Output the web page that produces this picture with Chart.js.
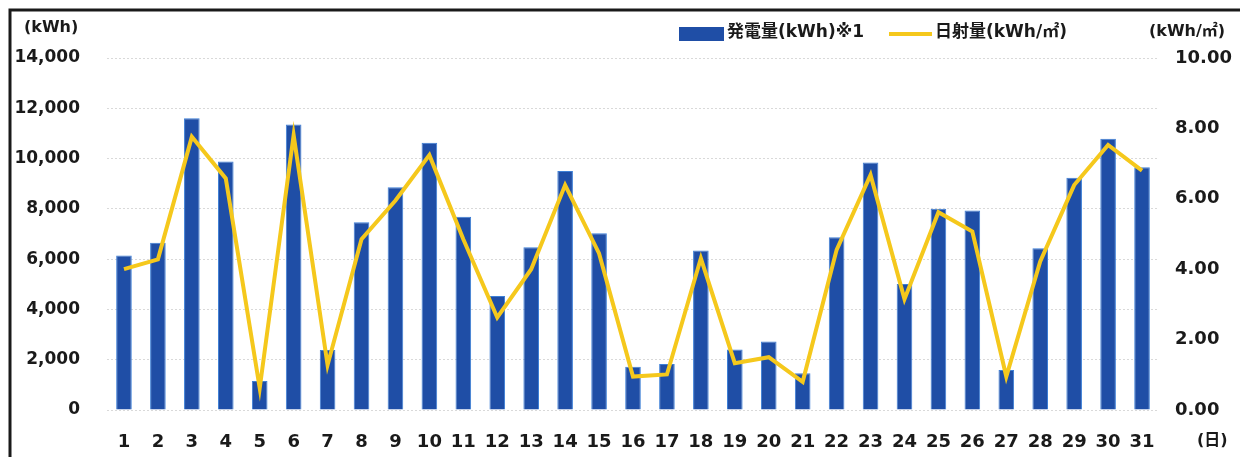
<!DOCTYPE html>
<html>
<head>
<meta charset="utf-8">
<script src="https://cdn.jsdelivr.net/npm/chart.js@4.4.0/dist/chart.umd.min.js"></script>
<style>
  html, body { margin: 0; padding: 0; background: #fff; }
  #wrap { width: 1240px; height: 457px; position: relative; }
</style>
</head>
<body>
<div id="wrap"><canvas id="hatsuden"></canvas></div>
<script>
var days = ['1','2','3','4','5','6','7','8','9','10','11','12','13','14','15','16',
            '17','18','19','20','21','22','23','24','25','26','27','28','29','30','31'];

// 発電量 (kWh)
var generation = [6140, 6650, 11600, 9880, 1150, 11360, 2390, 7470, 8860, 10630, 7690,
                  4530, 6470, 9510, 7030, 1720, 1830, 6340, 2410, 2720, 1460, 6870,
                  9840, 5010, 8000, 7930, 1590, 6430, 9240, 10790, 9650];

// 日射量 (kWh/㎡)
var irradiation = [4.00, 4.28, 7.76, 6.58, 0.62, 7.81, 1.28, 4.85, 5.95, 7.24, 4.85,
                   2.63, 4.00, 6.39, 4.45, 0.95, 1.01, 4.31, 1.33, 1.50, 0.80, 4.55,
                   6.68, 3.15, 5.62, 5.07, 0.95, 4.22, 6.39, 7.53, 6.80];

var leftTicks = [0, 2000, 4000, 6000, 8000, 10000, 12000, 14000];
var rightTicks = [0, 2, 4, 6, 8, 10];

var FONT = '"DejaVu Sans", "Noto Sans CJK JP", sans-serif';
var BLUE = '#1f4ea6';
var YELLOW = '#f5c81c';

// frame, unit labels and legend
var extras = {
    id: 'extras',
    beforeDraw: function (chart) {
        var c = chart.ctx;
        c.save();
        c.strokeStyle = '#1a1a1a';
        c.lineWidth = 3;
        c.beginPath();
        c.moveTo(10, 457);
        c.lineTo(10, 10);
        c.lineTo(1240, 10);
        c.stroke();
        c.restore();
    },
    afterDraw: function (chart) {
        var c = chart.ctx;
        c.save();
        c.fillStyle = '#1a1a1a';
        c.textBaseline = 'middle';
        c.font = 'bold 16px ' + FONT;
        c.textAlign = 'left';
        c.fillText('(kWh)', 24, 28);
        c.fillText('(kWh/㎡)', 1149, 32);
        c.fillText('(日)', 1197, 441);

        // legend
        var ds = chart.data.datasets;
        c.font = 'bold 17px ' + FONT;
        c.fillStyle = BLUE;
        c.fillRect(679, 27, 45, 14);
        c.fillStyle = '#1a1a1a';
        c.fillText(ds[1].label, 727, 33);
        c.strokeStyle = YELLOW;
        c.lineWidth = 4;
        c.beginPath();
        c.moveTo(889, 34);
        c.lineTo(932, 34);
        c.stroke();
        c.fillText(ds[0].label, 935, 33);
        c.restore();
    }
};

var ctx = document.getElementById('hatsuden').getContext('2d');

var chart = new Chart(ctx, {
    type: 'bar',
    data: {
        labels: days,
        datasets: [{
            type: 'line',
            label: '日射量(kWh/㎡)',
            data: irradiation,
            yAxisID: 'y2',
            borderColor: YELLOW,
            backgroundColor: YELLOW,
            borderWidth: 4,
            pointRadius: 0,
            tension: 0,
            order: 0
        }, {
            type: 'bar',
            label: '発電量(kWh)※1',
            data: generation,
            yAxisID: 'y',
            backgroundColor: BLUE,
            borderColor: '#3d7fd6',
            borderWidth: { left: 1, right: 1, top: 1, bottom: 0 },
            categoryPercentage: 0.92,
            barPercentage: 0.5,
            order: 1
        }]
    },
    options: {
        responsive: true,
        maintainAspectRatio: false,
        animation: false,
        layout: { padding: { top: 58, right: 0, left: 0, bottom: 0 }, autoPadding: false },
        plugins: {
            legend: { display: false },
            tooltip: { enabled: false }
        },
        scales: {
            x: {
                grid: { display: false, drawTicks: false },
                border: { display: false },
                ticks: {
                    color: '#1a1a1a',
                    font: { family: FONT, size: 18, weight: 'bold' },
                    padding: 22,
                    maxRotation: 0,
                    autoSkip: false
                },
                afterFit: function (s) { s.height = 47; }
            },
            y: {
                position: 'left',
                min: 0,
                max: 14000,
                afterBuildTicks: function (s) {
                    s.ticks = leftTicks.map(function (v) { return { value: v }; });
                },
                grid: {
                    color: '#d9d9d9',
                    lineWidth: 1,
                    drawTicks: false
                },
                border: { display: false, dash: [2, 2] },
                ticks: {
                    color: '#1a1a1a',
                    font: { family: FONT, size: 17, weight: 'bold' },
                    padding: 27,
                    callback: function (v) { return v.toLocaleString('en-US'); }
                },
                afterFit: function (s) { s.width = 107; }
            },
            y2: {
                position: 'right',
                min: 0,
                max: 10,
                afterBuildTicks: function (s) {
                    s.ticks = rightTicks.map(function (v) { return { value: v }; });
                },
                grid: { display: false, drawTicks: false },
                border: { display: false },
                ticks: {
                    color: '#1a1a1a',
                    font: { family: FONT, size: 18, weight: 'bold' },
                    padding: 16,
                    callback: function (v) { return v.toFixed(2); }
                },
                afterFit: function (s) { s.width = 81; }
            }
        }
    },
    plugins: [extras]
});
</script>
</body>
</html>
